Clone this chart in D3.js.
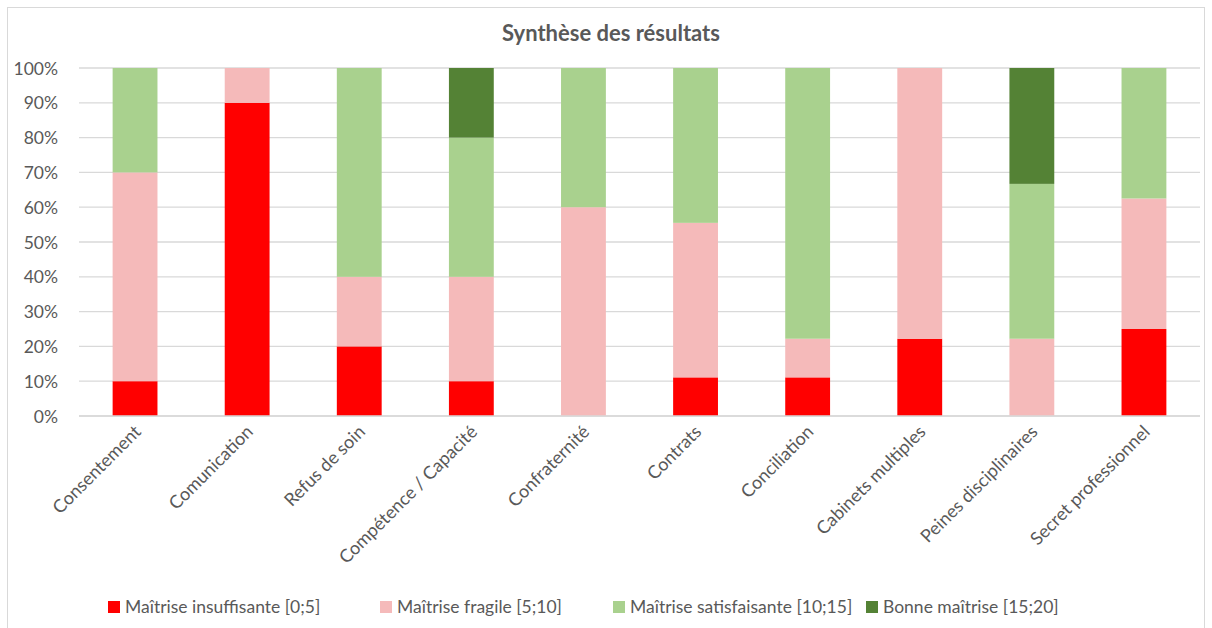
<!DOCTYPE html>
<html>
<head>
<meta charset="utf-8">
<script src="https://cdn.jsdelivr.net/npm/d3@7"></script>
<style>
  body { margin: 0; background: #fff; }
  text { font-family: Lato, Calibri, "Open Sans", sans-serif; }
</style>
</head>
<body>
<div id="chart"></div>
<script>
var categories = ["Consentement", "Comunication", "Refus de soin", "Compétence / Capacité",
                  "Confraternité", "Contrats", "Conciliation", "Cabinets multiples",
                  "Peines disciplinaires", "Secret professionnel"];

var seriesNames = ["Maîtrise insuffisante [0;5]", "Maîtrise fragile [5;10]",
                   "Maîtrise satisfaisante [10;15]", "Bonne maîtrise [15;20]"];

// shares in %
var insuffisante   = [10, 90, 20, 10,  0, 11.1, 11.1, 22.2,  0,    25];
var fragile        = [60, 10, 20, 30, 60, 44.4, 11.1, 77.8, 22.2, 37.5];
var satisfaisante  = [30,  0, 60, 40, 40, 44.5, 77.8,  0,   44.5, 37.5];
var bonne          = [ 0,  0,  0, 20,  0,  0,    0,    0,   33.3,  0];

var yTicks = [0, 10, 20, 30, 40, 50, 60, 70, 80, 90, 100];

var colors = ["#FF0000", "#F5BABA", "#A9D18E", "#548235"];

var width = 1212, height = 628;
var margin = {top: 68, left: 79, right: 12, bottom: 212};

var svg = d3.select("#chart").append("svg")
    .attr("width", width)
    .attr("height", height);

// chart frame
svg.append("rect")
    .attr("x", 7.5).attr("y", 7.5)
    .attr("width", 1197).attr("height", 640)
    .attr("fill", "#fff")
    .attr("stroke", "#d9d9d9");

svg.append("text")
    .attr("x", 611)
    .attr("y", 41)
    .attr("text-anchor", "middle")
    .attr("font-size", "22px")
    .attr("font-weight", "bold")
    .attr("fill", "#595959")
    .text("Synthèse des résultats");

var x = d3.scaleBand()
    .domain(categories)
    .range([margin.left, 1200])
    .paddingInner(0.6)
    .paddingOuter(0.3);

var y = d3.scaleLinear()
    .domain([0, 100])
    .range([416, margin.top]);

// grid
svg.append("g")
    .selectAll("line")
    .data(yTicks)
    .enter()
    .append("line")
    .attr("x1", margin.left)
    .attr("x2", 1200)
    .attr("y1", function(d){ return y(d); })
    .attr("y2", function(d){ return y(d); })
    .attr("stroke", "#d9d9d9")
    .attr("stroke-width", 1.3);

var yAxis = svg.append("g")
    .attr("transform", "translate(" + (margin.left - 18) + ",0)")
    .call(d3.axisLeft(y).tickValues(yTicks).tickSize(0).tickFormat(function(d){ return d + "%"; }));
yAxis.select(".domain").remove();
yAxis.selectAll("text")
    .attr("font-size", "17.5px")
    .attr("font-family", "Lato, Calibri, sans-serif")
    .attr("fill", "#595959")
    .attr("dy", "0.35em");

// stacked bars
var rows = categories.map(function(c, i){
    return {cat: c, s0: insuffisante[i], s1: fragile[i], s2: satisfaisante[i], s3: bonne[i]};
});
var stack = d3.stack().keys(["s0", "s1", "s2", "s3"]);
var layers = stack(rows);

svg.selectAll(".layer")
    .data(layers)
    .enter()
    .append("g")
    .attr("class", "layer")
    .attr("fill", function(d, i){ return colors[i]; })
    .selectAll("rect")
    .data(function(d){ return d; })
    .enter()
    .append("rect")
    .attr("x", function(d){ return x(d.data.cat); })
    .attr("width", x.bandwidth())
    .attr("y", function(d){ return y(d[1]); })
    .attr("height", function(d){ return y(d[0]) - y(d[1]); });

// x axis line at 0%
svg.append("line")
    .attr("x1", margin.left).attr("x2", 1200)
    .attr("y1", y(0)).attr("y2", y(0))
    .attr("stroke", "#d9d9d9")
    .attr("stroke-width", 1.3);

// rotated category labels
svg.selectAll(".catLabel")
    .data(categories)
    .enter()
    .append("text")
    .attr("class", "catLabel")
    .attr("transform", function(d){
        return "translate(" + (x(d) + x.bandwidth() / 2 + 7) + "," + 433 + ") rotate(-45)";
    })
    .attr("text-anchor", "end")
    .attr("font-size", "18px")
    .attr("fill", "#595959")
    .text(function(d){ return d; });

// legend
var legendX = [108, 380, 613, 866];
var legend = svg.selectAll(".legend")
    .data(seriesNames)
    .enter()
    .append("g")
    .attr("class", "legend")
    .attr("transform", function(d, i){ return "translate(" + legendX[i] + ",601)"; });
legend.append("rect")
    .attr("width", 12).attr("height", 12)
    .attr("fill", function(d, i){ return colors[i]; });
legend.append("text")
    .attr("x", 17)
    .attr("y", 6)
    .attr("dy", "0.35em")
    .attr("font-size", "17.5px")
    .attr("fill", "#595959")
    .text(function(d){ return d; });
</script>
</body>
</html>
